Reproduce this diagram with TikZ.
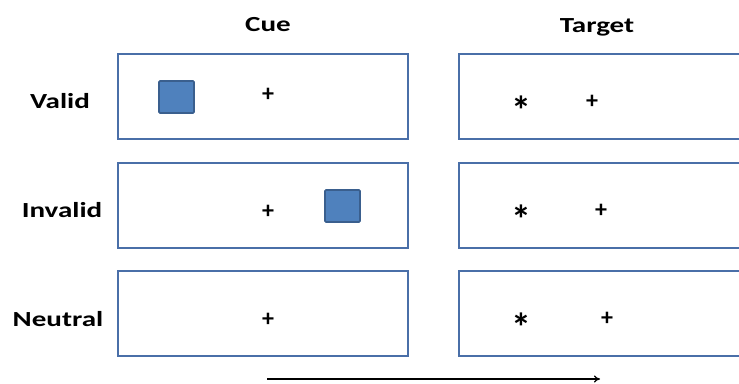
\documentclass[tikz,border=0pt]{standalone}
\usepackage{fontspec}
\setmainfont{Carlito}
\usetikzlibrary{arrows.meta}
\definecolor{frameblue}{HTML}{4A6FA8}
\definecolor{cuefill}{HTML}{4F81BD}
\definecolor{cueedge}{HTML}{3A5F8E}
\tikzset{
  panel/.style={draw=frameblue, line width=2.8pt, fill=white},
  cuesq/.style={draw=cueedge, fill=cuefill, line width=1.8pt, rounded corners=1.2pt},
  heading/.style={font=\fontsize{21.5}{26}\selectfont\bfseries, xscale=1.35, anchor=base, inner sep=0pt},
  rowlabel/.style={font=\fontsize{21.5}{26}\selectfont\bfseries, xscale=1.35, anchor=base, inner sep=0pt},
  fix/.style={font=\fontsize{24}{26}\selectfont\bfseries, inner sep=0pt},
  star/.style={font=\fontsize{40}{40}\selectfont\bfseries, inner sep=0pt},
}
\begin{document}
\begin{tikzpicture}[x=1pt, y=-1pt]
\useasboundingbox (0,0) rectangle (739,383);
\clip (0,0) rectangle (739,383);

% column headings
\node[heading] (hcue) at (268,31) {Cue};
\node[heading] (htarget) at (597,32) {Target};

% row labels
\node[rowlabel] (lvalid) at (60,108) {Valid};
\node[rowlabel] (linvalid) at (62,217) {Invalid};
\node[rowlabel] (lneutral) at (58,326) {Neutral};

% cue panels
\draw[panel] (118,54) rectangle (408,139);
\draw[panel] (118,163) rectangle (408,248);
\draw[panel] (118,271) rectangle (408,356);

% target panels (run past the right edge)
\draw[panel] (459,54) rectangle (760,139);
\draw[panel] (459,163) rectangle (760,248);
\draw[panel] (459,271) rectangle (760,356);

% cue squares
\draw[cuesq] (159,81) rectangle (194,113);
\draw[cuesq] (325,190) rectangle (360,222);

% fixation crosses, cue display
\node[fix] (fc1) at (268,95) {+};
\node[fix] (fc2) at (268,212) {+};
\node[fix] (fc3) at (268,320) {+};

% target display
\node[star] (t1) at (521,110) {*};
\node[fix] (ft1) at (592,102) {+};
\node[star] (t2) at (521,219) {*};
\node[fix] (ft2) at (601,211) {+};
\node[star] (t3) at (521,327) {*};
\node[fix] (ft3) at (607,319) {+};

% time arrow
\coordinate (tstart) at (267,379);
\coordinate (tend) at (600,379);
\draw[line width=1.3pt, -{To[length=6pt, width=7pt]}] (tstart) -- (tend);
\end{tikzpicture}
\end{document}
